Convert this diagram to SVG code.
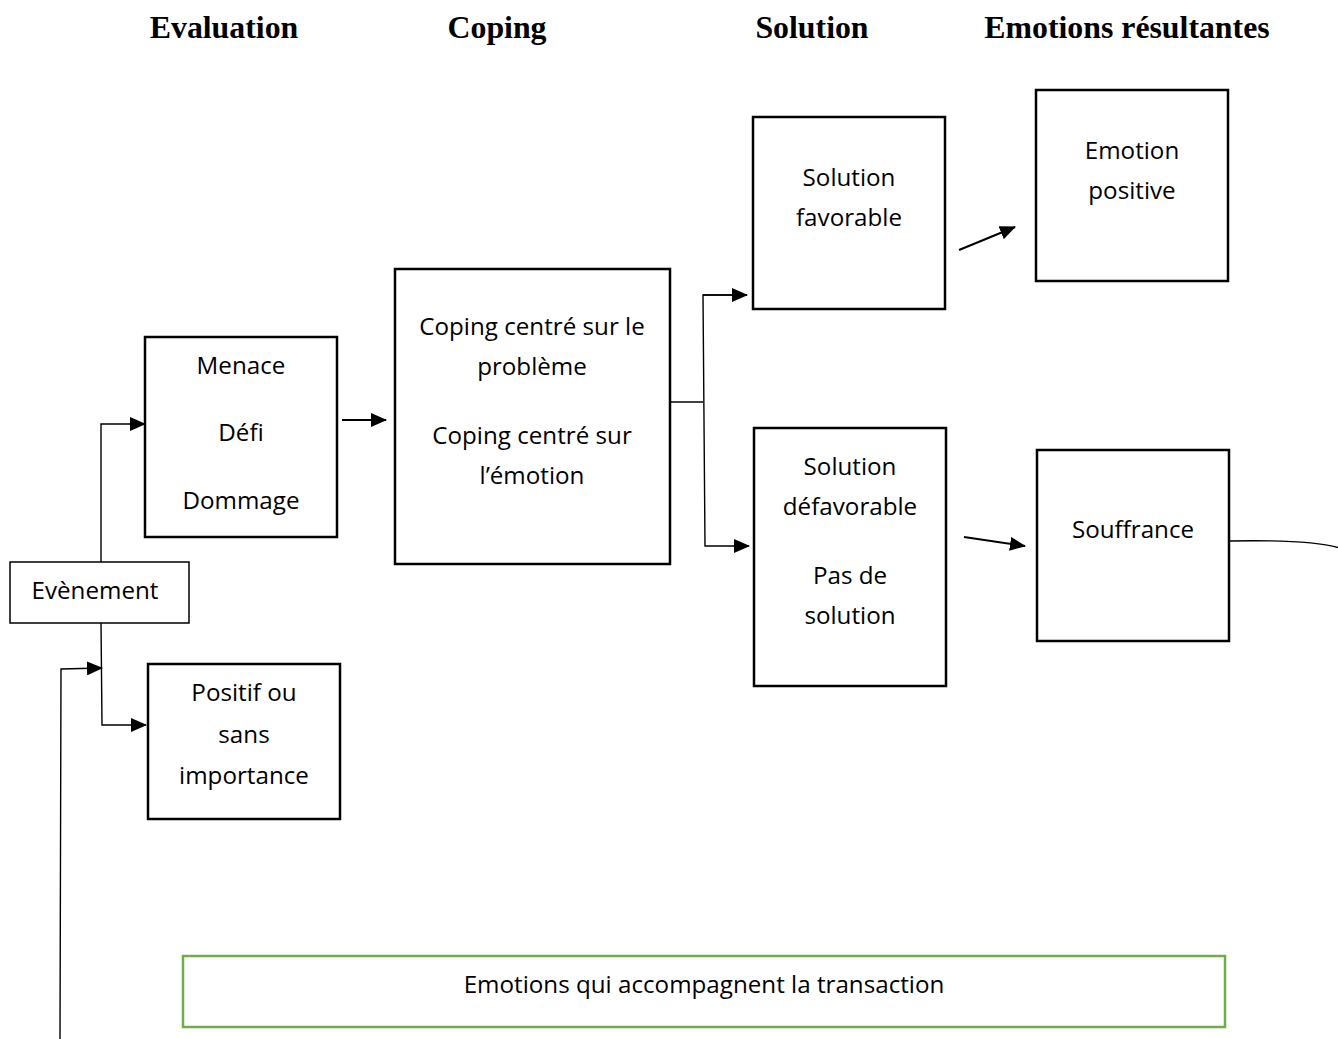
<svg xmlns="http://www.w3.org/2000/svg" width="1338" height="1039" viewBox="0 0 1338 1039">
<style>
.title{font-family:"Liberation Serif",serif;font-weight:bold;font-size:31.8px;fill:#000;text-anchor:middle}
.t{font-family:"Open Sans","Noto Sans",sans-serif;font-size:24.2px;fill:#000;text-anchor:middle}
.box{fill:#fff;stroke:#000;stroke-width:2.5}
.thin{fill:#fff;stroke:#000;stroke-width:1.5}
.c{fill:none;stroke:#000;stroke-width:1.4}
.a{fill:none;stroke:#000;stroke-width:2}
</style>
<defs>
<marker id="ah" markerUnits="userSpaceOnUse" markerWidth="16" markerHeight="14" refX="15" refY="7" orient="auto">
<path d="M0,0 L16,7 L0,14 Z" fill="#000"/>
</marker>
</defs>
<rect width="1338" height="1039" fill="#fff"/>
<g id="titles">
<text class="title" x="224" y="38">Evaluation</text>
<text class="title" x="497" y="38">Coping</text>
<text class="title" x="812" y="38">Solution</text>
<text class="title" x="1127" y="38">Emotions résultantes</text>
</g>
<g id="connectors">
<polyline class="c" points="101,562 101,424 145,424" marker-end="url(#ah)"/>
<polyline class="c" points="101,622 102,725 146,725" marker-end="url(#ah)"/>
<polyline class="c" points="60,1039 61,669 102,668" marker-end="url(#ah)"/>
<line class="a" x1="342" y1="420" x2="386" y2="420" marker-end="url(#ah)"/>
<line class="c" x1="670" y1="402" x2="703" y2="402"/>
<polyline class="c" points="747,295 703,295 705,546 749,546" marker-end="url(#ah)"/>
<line class="c" x1="703" y1="295" x2="747" y2="295" marker-end="url(#ah)"/>
<line class="a" x1="959" y1="250" x2="1015" y2="227" marker-end="url(#ah)"/>
<line class="a" x1="964" y1="537" x2="1025" y2="546" marker-end="url(#ah)"/>
<path class="c" d="M1229,541 C1280,540 1320,542 1340,548"/>
</g>
<g id="evenement">
<rect class="thin" x="10" y="562" width="179" height="61"/>
<text class="t" x="95" y="599">Evènement</text>
</g>
<g id="menace">
<rect class="box" x="145" y="337" width="192" height="200"/>
<text class="t" x="241" y="374">Menace</text>
<text class="t" x="241" y="441">Défi</text>
<text class="t" x="241" y="509">Dommage</text>
</g>
<g id="positif">
<rect class="box" x="148" y="664" width="192" height="155"/>
<text class="t" x="244" y="701">Positif ou</text>
<text class="t" x="244" y="743">sans</text>
<text class="t" x="244" y="784">importance</text>
</g>
<g id="coping">
<rect class="box" x="395" y="269" width="275" height="295"/>
<text class="t" x="532" y="335">Coping centré sur le</text>
<text class="t" x="532" y="375">problème</text>
<text class="t" x="532" y="444">Coping centré sur</text>
<text class="t" x="532" y="484">l’émotion</text>
</g>
<g id="sol-fav">
<rect class="box" x="753" y="117" width="192" height="192"/>
<text class="t" x="849" y="186">Solution</text>
<text class="t" x="849" y="226">favorable</text>
</g>
<g id="sol-defav">
<rect class="box" x="754" y="428" width="192" height="258"/>
<text class="t" x="850" y="475">Solution</text>
<text class="t" x="850" y="515">défavorable</text>
<text class="t" x="850" y="584">Pas de</text>
<text class="t" x="850" y="624">solution</text>
</g>
<g id="emo-pos">
<rect class="box" x="1036" y="90" width="192" height="191"/>
<text class="t" x="1132" y="159">Emotion</text>
<text class="t" x="1132" y="199">positive</text>
</g>
<g id="souffrance">
<rect class="box" x="1037" y="450" width="192" height="191"/>
<text class="t" x="1133" y="538">Souffrance</text>
</g>
<g id="transaction">
<rect x="183" y="956" width="1042" height="71" fill="#fff" stroke="#70ad47" stroke-width="2.5"/>
<text class="t" x="704" y="993">Emotions qui accompagnent la transaction</text>
</g>
</svg>
